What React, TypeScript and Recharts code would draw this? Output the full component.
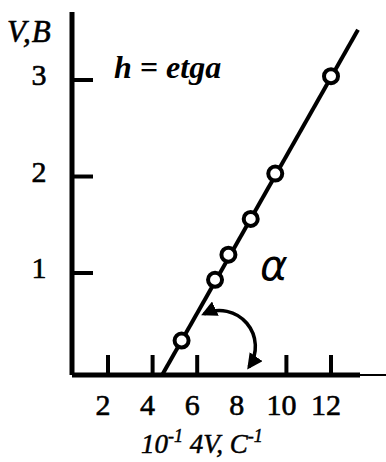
import React from 'react';
import { ScatterChart, Scatter, XAxis, YAxis, Customized } from 'recharts';

// measured points: x = 10^-1 4V, C^-1 ; y = V, B
const measuredX = [5.3, 6.8, 7.4, 8.4, 9.5, 12.0];
const measuredV = [0.3, 0.93, 1.19, 1.56, 2.03, 3.04];
// fitted straight line (endpoints)
const fitX = [4.42, 13.21];
const fitV = [-0.06, 3.52];
const xTicks = [2, 4, 6, 8, 10, 12];
const yTicks = [1, 2, 3];

const points = measuredX.map((x, i) => ({ x, y: measuredV[i] }));
const fitLine = fitX.map((x, i) => ({ x, y: fitV[i] }));

const serif = { fontFamily: "'Liberation Serif', 'Times New Roman', 'DejaVu Serif', serif" };

const XTick = (props: any) => {
  const { x, y, payload } = props;
  return (
    <g>
      {payload.value !== 8 && (
        <line x1={x} x2={x} y1={y - 20} y2={y} stroke="#000" strokeWidth={4} />
      )}
      <text x={x - 5} y={y + 40} textAnchor="middle" style={{ ...serif, fontSize: 30 }} fill="#000" stroke="#000" strokeWidth={0.6}>
        {payload.value}
      </text>
    </g>
  );
};

const YTick = (props: any) => {
  const { x, y, payload } = props;
  return (
    <g>
      <line x1={x} x2={x + 21} y1={y} y2={y} stroke="#000" strokeWidth={4} />
      <text x={x - 33} y={y + 5} textAnchor="middle" style={{ ...serif, fontSize: 30 }} fill="#000" stroke="#000" strokeWidth={0.6}>
        {payload.value}
      </text>
    </g>
  );
};

const Annotations = () => (
  <g>
    <defs>
      <marker id="arrowHead" viewBox="0 0 10 10" refX="8" refY="5" markerWidth="4.5" markerHeight="4.5" orient="auto-start-reverse" markerUnits="strokeWidth">
        <path d="M0,0 L10,5 L0,10 z" fill="#000" />
      </marker>
    </defs>
    {/* thin extension of the x axis */}
    <line x1={360} x2={386} y1={375} y2={375} stroke="#000" strokeWidth={2} />
    {/* angle arc */}
    <path d="M 204 314 A 36 36 0 0 1 249 367" fill="none" stroke="#000" strokeWidth={3.5} markerStart="url(#arrowHead)" markerEnd="url(#arrowHead)" />
    <text x={260} y={280} style={{ fontFamily: "'DejaVu Sans', sans-serif", fontStyle: 'italic', fontSize: 42 }} fill="#000">α</text>
    <text x={114} y={78} style={{ ...serif, fontStyle: 'italic', fontWeight: 'bold', fontSize: 32 }} fill="#000">h = etga</text>
    <text x={7} y={42} style={{ ...serif, fontStyle: 'italic', fontSize: 31, letterSpacing: 1 }} fill="#000" stroke="#000" strokeWidth={0.6}>V,B</text>
    <text x={141} y={453} style={{ ...serif, fontStyle: 'italic', fontSize: 27 }} fill="#000" stroke="#000" strokeWidth={0.5}>
      10<tspan fontSize={18} dy={-11}>-1</tspan>
      <tspan dy={11}> 4V, C</tspan>
      <tspan fontSize={18} dy={-11}>-1</tspan>
    </text>
  </g>
);

export default function App() {
  return (
    <div style={{ position: 'absolute', left: 0, top: 0, background: '#fff' }}>
      <ScatterChart width={386} height={462} margin={{ top: 12, right: 26, left: 0, bottom: 0 }}>
        <XAxis
          type="number"
          dataKey="x"
          domain={[0.386, 13.3]}
          ticks={xTicks}
          allowDataOverflow
          height={87}
          tickSize={0}
          tickMargin={0}
          tickLine={false}
          axisLine={{ stroke: '#000', strokeWidth: 5 }}
          tick={<XTick />}
          interval={0}
        />
        <YAxis
          type="number"
          dataKey="y"
          domain={[-0.057, 3.705]}
          ticks={yTicks}
          allowDataOverflow
          width={72}
          tickSize={0}
          tickMargin={0}
          tickLine={false}
          axisLine={{ stroke: '#000', strokeWidth: 5 }}
          tick={<YTick />}
          interval={0}
        />
        <Scatter
          data={fitLine}
          line={{ stroke: '#000', strokeWidth: 4 }}
          shape={() => <g />}
          isAnimationActive={false}
        />
        <Scatter
          data={points}
          shape={(p: any) => (
            <circle cx={p.cx} cy={p.cy} r={7} fill="#fff" stroke="#000" strokeWidth={4} />
          )}
          isAnimationActive={false}
        />
        <Customized component={<Annotations />} />
      </ScatterChart>
    </div>
  );
}
